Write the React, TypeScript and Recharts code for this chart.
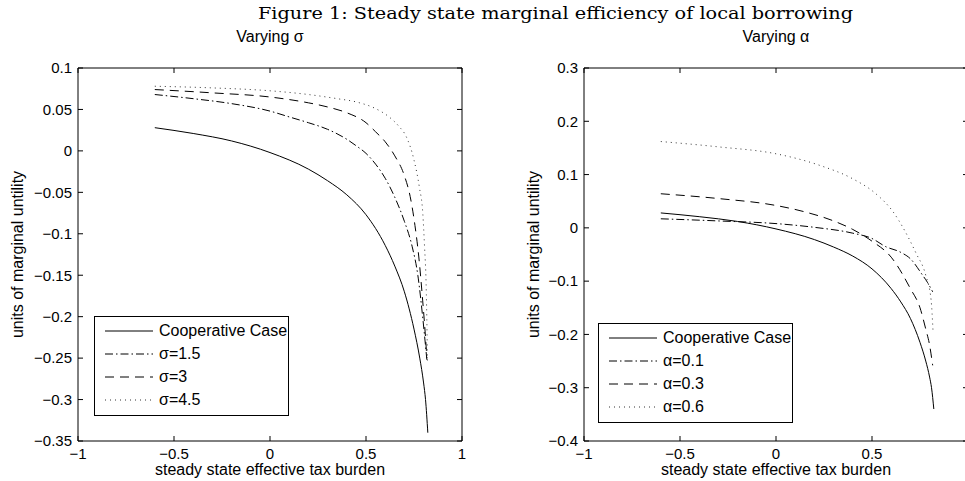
import { Line, LineChart, XAxis, YAxis } from 'recharts';

const taxTicks = [-1, -0.5, 0, 0.5, 1];
const alphaTaxLabels = [-1, -0.5, 0, 0.5];
const sigmaTicks = [-0.35, -0.3, -0.25, -0.2, -0.15, -0.1, -0.05, 0, 0.05, 0.1];
const alphaTicks = [-0.4, -0.3, -0.2, -0.1, 0, 0.1, 0.2, 0.3];

// cooperative case (same curve in both panels)
const coopTax = [-0.6, -0.4, -0.2, 0, 0.2, 0.3, 0.4, 0.5, 0.6, 0.65, 0.7, 0.75, 0.78, 0.8, 0.81, 0.822];
const coopMU = [0.028, 0.021, 0.012, -0.002, -0.022, -0.036, -0.053, -0.077, -0.114, -0.139, -0.17, -0.215, -0.25, -0.28, -0.3, -0.34];

// varying sigma
const sigma15Tax = [-0.6, -0.4, -0.2, 0, 0.1, 0.2, 0.3, 0.4, 0.45, 0.5, 0.55, 0.6, 0.65, 0.7, 0.74, 0.77, 0.795, 0.81, 0.817];
const sigma15MU = [0.068, 0.063, 0.057, 0.048, 0.041, 0.034, 0.026, 0.014, 0.006, -0.003, -0.016, -0.033, -0.056, -0.085, -0.115, -0.15, -0.2, -0.235, -0.252];
const sigma3Tax = [-0.6, -0.3, 0, 0.2, 0.3, 0.4, 0.5, 0.55, 0.6, 0.65, 0.7, 0.73, 0.755, 0.775, 0.795, 0.81, 0.817];
const sigma3MU = [0.074, 0.07, 0.065, 0.058, 0.053, 0.046, 0.034, 0.023, 0.011, -0.006, -0.03, -0.055, -0.09, -0.128, -0.18, -0.225, -0.25];
const sigma45Tax = [-0.6, -0.3, 0, 0.2, 0.35, 0.45, 0.55, 0.62, 0.67, 0.71, 0.75, 0.778, 0.796, 0.805, 0.813, 0.818, 0.82];
const sigma45MU = [0.078, 0.076, 0.0725, 0.068, 0.063, 0.059, 0.051, 0.041, 0.03, 0.017, -0.011, -0.044, -0.076, -0.116, -0.16, -0.22, -0.253];

// varying alpha
const alpha01Tax = [-0.6, -0.3, 0, 0.2, 0.4, 0.5, 0.57, 0.65, 0.7, 0.76, 0.79, 0.816];
const alpha01MU = [0.017, 0.013, 0.008, 0.001, -0.01, -0.02, -0.035, -0.046, -0.058, -0.087, -0.103, -0.12];
const alpha03Tax = [-0.6, -0.3, 0, 0.15, 0.3, 0.4, 0.5, 0.6, 0.7, 0.75, 0.78, 0.8, 0.816];
const alpha03MU = [0.064, 0.055, 0.042, 0.03, 0.013, -0.003, -0.025, -0.055, -0.114, -0.15, -0.19, -0.22, -0.258];
const alpha06Tax = [-0.6, -0.3, 0, 0.23, 0.4, 0.52, 0.61, 0.67, 0.73, 0.78, 0.808, 0.818];
const alpha06MU = [0.162, 0.152, 0.139, 0.117, 0.092, 0.064, 0.03, -0.005, -0.048, -0.089, -0.136, -0.195];

const zip = (xs: number[], ys: number[]) => xs.map((x, i) => ({ tax: x, mu: ys[i] }));

const SOLID = '';
const DASHDOT = '8 3 1.5 3';
const DASHED = '9 6';
const DOTTED = '1 4';

const sans = '"Liberation Sans", Arial, Helvetica, sans-serif';

const fmt = (v: number) => {
  const s = String(parseFloat(Math.abs(v).toFixed(2)));
  return v < 0 ? '\u2212' + s : s;
};

type Series = { name: string; data: { tax: number; mu: number }[]; dash: string; color: string };

const sigmaSeries: Series[] = [
  { name: 'Cooperative Case', data: zip(coopTax, coopMU), dash: SOLID, color: '#000' },
  { name: 'σ=1.5', data: zip(sigma15Tax, sigma15MU), dash: DASHDOT, color: '#000' },
  { name: 'σ=3', data: zip(sigma3Tax, sigma3MU), dash: DASHED, color: '#000' },
  { name: 'σ=4.5', data: zip(sigma45Tax, sigma45MU), dash: DOTTED, color: '#333' },
];

const alphaSeries: Series[] = [
  { name: 'Cooperative Case', data: zip(coopTax, coopMU), dash: SOLID, color: '#000' },
  { name: 'α=0.1', data: zip(alpha01Tax, alpha01MU), dash: DASHDOT, color: '#000' },
  { name: 'α=0.3', data: zip(alpha03Tax, alpha03MU), dash: DASHED, color: '#000' },
  { name: 'α=0.6', data: zip(alpha06Tax, alpha06MU), dash: DOTTED, color: '#333' },
];

const Legend = ({ series, left, top }: { series: Series[]; left: number; top: number }) => (
  <div
    style={{
      position: 'absolute',
      left,
      top,
      width: 195,
      height: 100,
      border: '1px solid #000',
      background: '#fff',
      boxSizing: 'border-box',
      fontFamily: sans,
      fontSize: 16,
    }}
  >
    {series.map((s, i) => (
      <div key={s.name} style={{ position: 'absolute', left: 9, top: 4 + i * 23, height: 20, display: 'flex', alignItems: 'center' }}>
        <svg width={50} height={20}>
          <line x1={1} x2={49} y1={10} y2={10} stroke={s.color} strokeDasharray={s.dash || undefined} />
        </svg>
        <span style={{ marginLeft: 5, whiteSpace: 'nowrap' }}>{s.name}</span>
      </div>
    ))}
  </div>
);

const Panel = ({
  left,
  width,
  marginLeft,
  marginRight,
  yDomain,
  yTicks,
  xLabels,
  series,
  labelOffset,
}: {
  left: number;
  width: number;
  marginLeft: number;
  marginRight: number;
  yDomain: [number, number];
  yTicks: number[];
  xLabels: number[];
  series: Series[];
  labelOffset: number;
}) => {
  const tickStyle = { fill: '#000', fontSize: 15, fontFamily: sans };
  return (
    <div style={{ position: 'absolute', left, top: 0 }}>
      <LineChart width={width} height={481} margin={{ top: 68, right: marginRight, bottom: 16, left: marginLeft }}>
        <XAxis
          xAxisId="b"
          dataKey="tax"
          type="number"
          domain={[-1, 1]}
          ticks={xLabels}
          allowDataOverflow
          height={24}
          tickLine={false}
          tickMargin={1}
          axisLine={{ stroke: '#000' }}
          tick={tickStyle}
          tickFormatter={fmt}
          label={{ value: 'steady state effective tax burden', position: 'bottom', offset: -1, fill: '#000', fontSize: 16, fontFamily: sans }}
        />
        <XAxis xAxisId="bm" dataKey="tax" type="number" domain={[-1, 1]} ticks={taxTicks} allowDataOverflow mirror height={1} axisLine={false} tickLine={{ stroke: '#000' }} tickSize={5} tickFormatter={() => ''} />
        <XAxis xAxisId="t" orientation="top" dataKey="tax" type="number" domain={[-1, 1]} ticks={taxTicks} allowDataOverflow mirror height={1} axisLine={{ stroke: '#000' }} tickLine={{ stroke: '#000' }} tickSize={5} tickFormatter={() => ''} />
        <YAxis
          yAxisId="l"
          type="number"
          domain={yDomain}
          ticks={yTicks}
          allowDataOverflow
          width={60}
          tickLine={false}
          tickMargin={0}
          axisLine={{ stroke: '#000' }}
          tick={tickStyle}
          tickFormatter={fmt}
          label={{ value: 'units of marginal untility', angle: -90, position: 'insideLeft', offset: labelOffset, fill: '#000', fontSize: 16, fontFamily: sans, style: { textAnchor: 'middle' } }}
        />
        <YAxis yAxisId="lm" type="number" domain={yDomain} ticks={yTicks} allowDataOverflow mirror width={1} axisLine={false} tickLine={{ stroke: '#000' }} tickSize={5} tickFormatter={() => ''} />
        <YAxis yAxisId="r" orientation="right" type="number" domain={yDomain} ticks={yTicks} allowDataOverflow mirror width={1} axisLine={{ stroke: '#000' }} tickLine={{ stroke: '#000' }} tickSize={5} tickFormatter={() => ''} />
        {series.map((s) => (
          <Line
            key={s.name}
            xAxisId="b"
            yAxisId="l"
            data={s.data}
            dataKey="mu"
            type="monotone"
            stroke={s.color}
            strokeWidth={1}
            strokeDasharray={s.dash || undefined}
            dot={false}
            activeDot={false}
            isAnimationActive={false}
          />
        ))}
      </LineChart>
    </div>
  );
};

export default function App() {
  return (
    <div style={{ position: 'fixed', left: 0, top: 0, width: 965, height: 481, overflow: 'hidden', background: '#fff' }}>
      <svg style={{ position: 'absolute', left: 0, top: 0 }} width={965} height={30}>
        <text x={258} y={19} textLength={595} lengthAdjust="spacingAndGlyphs" fontFamily='"DejaVu Serif", "Liberation Serif", serif' fontSize={17} fill="#000">
          Figure 1: Steady state marginal efficiency of local borrowing
        </text>
      </svg>
      <div style={{ position: 'absolute', left: 78, width: 384, top: 28, textAlign: 'center', fontFamily: sans, fontSize: 16 }}>Varying σ</div>
      <div style={{ position: 'absolute', left: 584, width: 384, top: 28, textAlign: 'center', fontFamily: sans, fontSize: 16 }}>Varying α</div>
      <Panel left={0} width={480} marginLeft={18} marginRight={18} yDomain={[-0.35, 0.1]} yTicks={sigmaTicks} xLabels={taxTicks} series={sigmaSeries} labelOffset={-1} />
      <Panel left={480} width={500} marginLeft={44} marginRight={12} yDomain={[-0.4, 0.3]} yTicks={alphaTicks} xLabels={alphaTaxLabels} series={alphaSeries} labelOffset={9} />
      <Legend series={sigmaSeries} left={94} top={316} />
      <Legend series={alphaSeries} left={598} top={323} />
    </div>
  );
}
